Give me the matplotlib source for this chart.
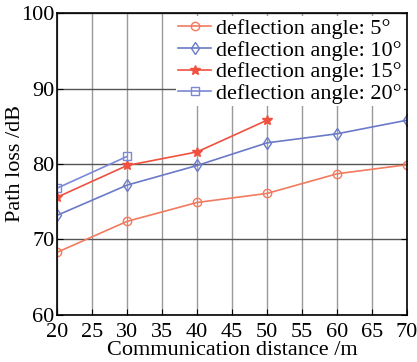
import numpy as np
import matplotlib.pyplot as plt

plt.rcParams['font.family'] = ['Liberation Serif', 'DejaVu Serif']

dist = [20, 30, 40, 50, 60, 70]
loss_5 = [68.3, 72.4, 74.9, 76.1, 78.7, 79.9]
loss_10 = [73.2, 77.2, 79.8, 82.8, 84.0, 85.8]
dist_15 = [20, 30, 40, 50]
loss_15 = [75.6, 79.8, 81.6, 85.8]
dist_20 = [20, 30]
loss_20 = [76.8, 81.0]

fig = plt.figure(figsize=(4.17, 3.62), dpi=100)
ax = fig.add_axes([0.137, 0.130, 0.839, 0.834])

ax.plot(dist, loss_5, '-o', color='#f27a5e', mfc='none', ms=6, lw=1.2, label='deflection angle: 5°')
ax.plot(dist, loss_10, '-d', color='#6a7ac8', mfc='none', ms=6, lw=1.2, label='deflection angle: 10°')
ax.plot(dist_15, loss_15, '-*', color='#f05040', ms=7, lw=1.2, label='deflection angle: 15°')
ax.plot(dist_20, loss_20, '-s', color='#7a88d6', mfc='none', ms=6, lw=1.2, label='deflection angle: 20°')

ax.set_xlim(20, 70)
ax.set_ylim(60, 100)
ax.set_xticks(np.arange(20, 71, 5))
ax.set_yticks([60, 70, 80, 90, 100])
ax.xaxis.grid(True, color='#999999', lw=1.0)
ax.yaxis.grid(True, color='#555555', lw=1.0)
ax.set_axisbelow(True)
ax.tick_params(direction='in', labelsize=16, right=True, top=False, length=4)
ax.tick_params(axis='x', pad=6)
ax.tick_params(axis='y', pad=2)
for s in ax.spines.values():
    s.set_linewidth(1.2)

ax.set_xlabel('Communication distance /m', fontsize=16, labelpad=-1)
ax.set_ylabel('Path loss /dB', fontsize=16)
ax.yaxis.set_label_coords(-0.092, 0.5)

leg = ax.legend(loc='upper right', fontsize=16, frameon=True, fancybox=False,
                edgecolor='none', framealpha=1, borderaxespad=0.15,
                handlelength=1.5, handletextpad=0.2, labelspacing=0.05, borderpad=0.1)

fig.savefig('out.png', dpi=100)
